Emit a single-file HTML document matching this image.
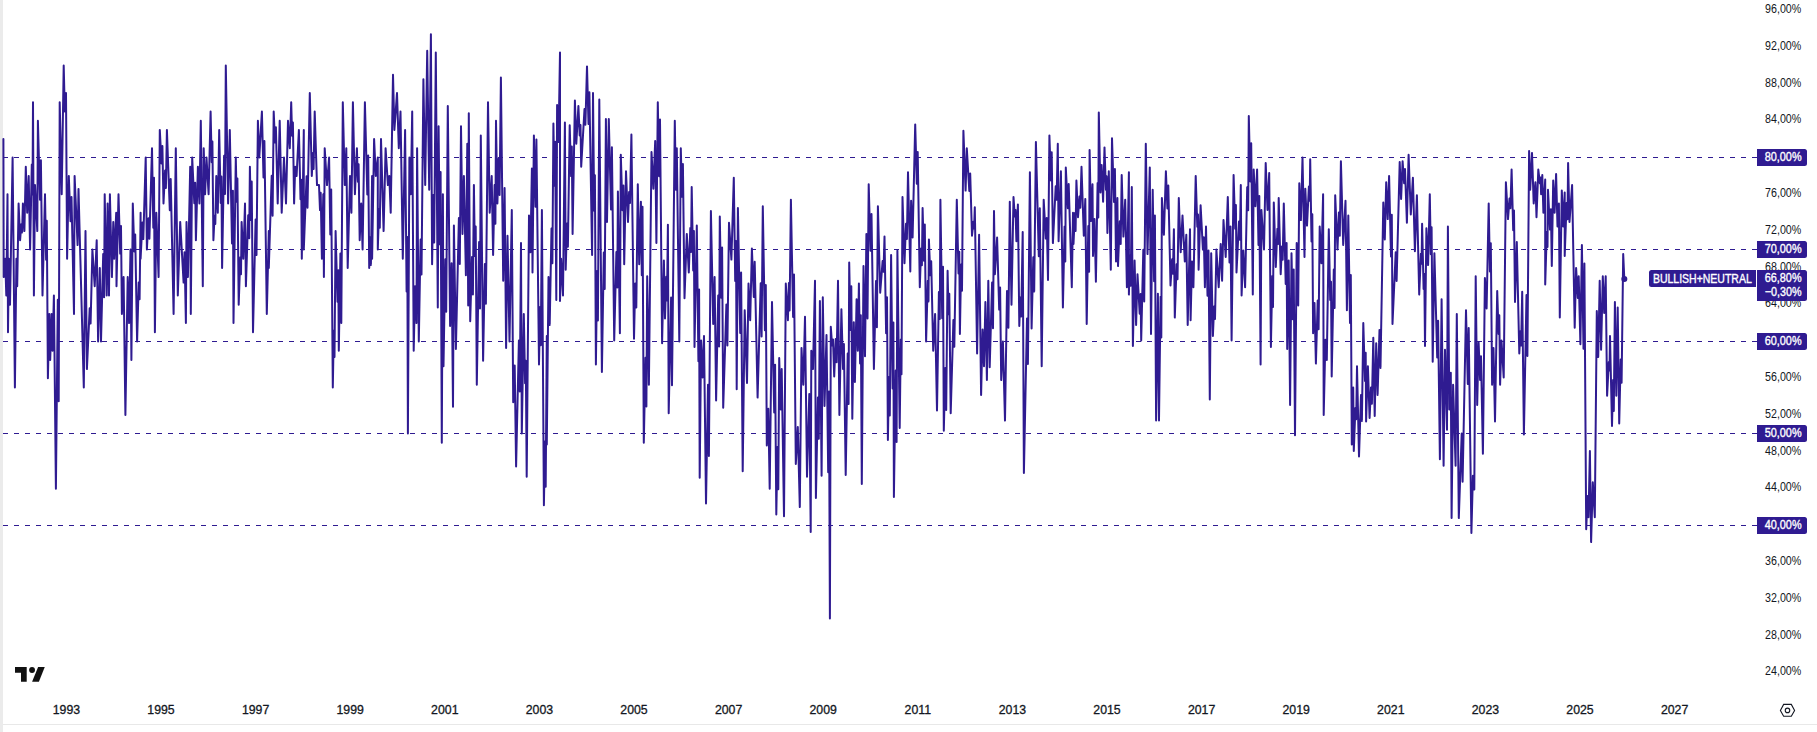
<!DOCTYPE html><html><head><meta charset="utf-8"><style>html,body{margin:0;padding:0;background:#fff;}svg{display:block;}text{font-family:"Liberation Sans",Arial,sans-serif;}</style></head><body>
<svg width="1817" height="732" viewBox="0 0 1817 732">
<rect x="0" y="0" width="1817" height="732" fill="#ffffff"/>
<rect x="0" y="0" width="3" height="732" fill="#ebebeb"/>
<rect x="3" y="724" width="1814" height="1" fill="#e8e8e8"/>
<line x1="3" y1="157.5" x2="1757" y2="157.5" stroke="#2f1b91" stroke-width="1" stroke-dasharray="5 6"/>
<line x1="3" y1="249.5" x2="1757" y2="249.5" stroke="#2f1b91" stroke-width="1" stroke-dasharray="5 6"/>
<line x1="3" y1="341.5" x2="1757" y2="341.5" stroke="#2f1b91" stroke-width="1" stroke-dasharray="5 6"/>
<line x1="3" y1="433.5" x2="1757" y2="433.5" stroke="#2f1b91" stroke-width="1" stroke-dasharray="5 6"/>
<line x1="3" y1="525.5" x2="1757" y2="525.5" stroke="#2f1b91" stroke-width="1" stroke-dasharray="5 6"/>
<path d="M3.4 139.1 L3.7 277.1 L5.2 258.7 L6.3 295.5 L7.5 194.3 L8.0 332.3 L8.9 258.7 L10.0 304.7 L12.6 157.5 L14.9 387.5 L16.4 258.7 L17.2 286.3 L18.6 203.5 L20.1 240.3 L21.3 224.3 L22.1 232.4 L22.9 203.5 L24.4 231.1 L25.8 166.7 L27.2 212.7 L28.7 175.9 L30.1 249.5 L31.8 164.5 L32.5 194.5 L33.0 102.3 L33.9 295.5 L35.0 185.1 L37.3 231.1 L37.9 120.7 L40.0 199.8 L40.9 160.3 L42.5 295.5 L45.0 194.3 L46.1 259.7 L46.8 220.7 L47.9 378.3 L49.3 313.9 L50.2 359.9 L51.6 313.9 L52.5 350.7 L53.9 295.5 L55.9 488.7 L57.8 299.8 L58.7 401.3 L59.7 102.3 L61.7 194.3 L63.7 65.5 L64.8 111.5 L66.0 93.1 L67.1 258.7 L68.8 175.9 L70.5 221.2 L71.5 197.1 L74.0 313.9 L74.6 175.9 L77.6 245.1 L78.5 188.9 L83.8 387.5 L85.5 231.1 L86.9 369.1 L89.7 308.3 L90.6 323.6 L92.4 249.5 L94.7 286.3 L96.7 240.3 L98.1 341.5 L99.8 267.9 L101.0 341.5 L103.2 254.0 L104.1 297.2 L104.7 194.3 L106.7 295.5 L107.6 203.5 L109.0 295.5 L109.9 194.3 L111.9 277.1 L113.3 221.9 L114.2 258.7 L116.2 212.7 L116.5 286.3 L118.5 194.3 L120.2 253.6 L121.0 226.0 L121.9 313.9 L123.6 277.1 L125.4 415.1 L127.7 277.1 L129.1 323.1 L130.5 249.5 L131.4 359.9 L132.8 203.5 L134.3 251.4 L135.2 234.5 L137.1 341.5 L138.7 282.4 L139.6 299.3 L140.6 212.7 L140.6 258.7 L142.4 222.6 L143.3 239.1 L145.7 157.5 L146.9 249.5 L148.5 218.2 L149.4 238.8 L152.0 148.3 L153.3 227.8 L154.0 177.8 L154.9 332.3 L156.3 212.7 L158.6 277.1 L159.8 129.9 L161.5 163.4 L162.4 146.1 L163.5 203.5 L165.1 170.4 L165.9 188.0 L166.9 129.9 L169.8 210.3 L170.7 179.1 L173.6 313.9 L175.8 148.3 L177.8 295.5 L180.2 221.9 L183.6 282.6 L184.5 252.3 L185.9 323.1 L186.5 221.9 L187.9 277.1 L190.2 166.7 L190.8 313.9 L192.2 157.5 L194.3 203.2 L195.2 182.7 L195.9 240.3 L197.9 166.7 L199.4 203.5 L200.8 120.7 L202.8 286.3 L203.7 148.3 L205.1 194.3 L206.5 157.5 L208.6 194.3 L210.6 111.5 L211.7 162.3 L212.4 141.5 L213.4 240.3 L214.6 215.4 L215.3 223.9 L216.3 175.9 L217.8 212.7 L219.2 129.9 L220.7 203.0 L221.4 176.5 L222.1 267.9 L224.1 155.8 L225.0 194.1 L225.8 65.5 L228.1 203.5 L229.8 129.9 L232.0 243.4 L232.9 190.7 L233.5 323.1 L235.8 157.5 L236.7 201.7 L237.4 178.5 L238.7 304.7 L240.3 257.2 L241.0 274.2 L241.6 221.9 L243.3 258.7 L245.0 203.5 L245.9 286.3 L248.2 215.2 L249.2 238.2 L249.9 166.7 L250.9 220.0 L251.7 181.4 L253.0 332.3 L255.6 219.4 L256.5 255.1 L257.9 120.7 L259.3 157.5 L261.9 111.5 L263.5 177.5 L264.4 141.1 L266.8 313.9 L268.8 231.1 L268.8 267.9 L271.7 175.8 L272.6 215.8 L273.7 111.5 L275.0 142.4 L275.9 127.2 L277.7 203.5 L279.7 120.7 L281.7 212.7 L284.0 157.5 L286.0 203.5 L288.0 120.7 L289.8 148.3 L291.2 102.3 L292.1 135.7 L292.9 122.5 L294.1 203.5 L295.2 166.7 L296.6 175.9 L298.9 129.9 L300.5 199.3 L301.2 179.8 L301.8 258.7 L303.8 129.9 L303.8 249.5 L306.6 176.3 L307.5 207.7 L309.8 93.1 L311.8 175.9 L312.9 152.9 L313.6 169.1 L314.7 111.5 L317.0 185.1 L319.0 185.1 L320.0 210.1 L320.7 192.7 L321.9 258.7 L323.3 194.3 L323.9 277.1 L324.7 148.3 L327.0 185.1 L329.1 157.5 L330.3 234.5 L331.2 189.5 L332.8 387.5 L333.8 330.6 L334.5 357.0 L335.6 231.1 L337.5 301.8 L338.3 270.2 L338.8 350.7 L340.4 253.5 L341.3 322.9 L342.8 102.3 L344.8 185.1 L346.3 148.3 L347.7 267.9 L350.0 175.9 L351.4 212.7 L352.9 102.3 L354.9 194.3 L356.9 148.3 L357.9 181.7 L358.6 164.2 L359.7 240.3 L361.2 203.5 L362.6 249.5 L364.9 102.3 L367.3 194.4 L368.2 155.4 L369.2 267.9 L370.2 237.5 L370.9 264.9 L372.1 175.9 L372.1 258.7 L374.1 139.1 L375.8 175.9 L377.8 157.5 L377.8 249.5 L379.0 209.3 L379.8 227.7 L381.0 139.1 L383.6 231.1 L385.6 148.3 L387.9 185.1 L389.3 175.9 L390.7 212.7 L393.0 74.7 L394.4 129.9 L397.0 93.1 L398.8 148.3 L400.5 111.5 L402.8 258.7 L405.1 129.9 L406.6 291.4 L407.3 236.9 L407.9 433.5 L409.4 157.5 L410.8 194.3 L412.2 111.5 L413.7 350.7 L415.1 286.3 L416.5 323.1 L417.1 148.3 L418.8 341.5 L420.6 239.5 L421.5 274.5 L423.4 79.3 L425.2 185.1 L427.2 50.8 L429.2 189.7 L430.9 34.2 L432.1 264.2 L433.3 195.0 L434.2 242.6 L435.8 52.6 L437.8 307.5 L438.6 126.2 L439.8 244.2 L440.6 172.0 L441.8 442.7 L442.9 194.3 L443.5 366.3 L445.3 259.2 L446.2 311.7 L447.8 106.0 L450.1 325.9 L451.6 263.3 L453.0 406.8 L453.9 225.6 L455.9 348.9 L458.9 218.0 L459.8 264.1 L461.0 126.2 L462.5 233.9 L463.9 175.9 L465.9 275.3 L467.3 143.7 L468.2 305.6 L468.8 113.3 L470.2 321.3 L472.0 256.9 L472.9 294.5 L473.9 185.1 L474.9 255.9 L475.7 226.4 L476.8 384.7 L479.1 242.0 L480.0 308.6 L480.8 135.4 L483.1 360.8 L484.9 263.9 L485.9 303.8 L488.0 102.3 L489.7 212.7 L491.7 175.9 L493.1 255.0 L494.6 184.9 L495.4 223.8 L496.0 120.7 L497.4 203.5 L498.7 158.2 L499.6 194.9 L500.9 77.5 L503.2 280.8 L504.6 187.9 L506.1 347.9 L507.5 235.7 L509.5 341.5 L511.8 209.9 L513.2 402.2 L514.7 365.4 L516.1 466.6 L518.9 340.4 L519.8 391.5 L521.0 243.1 L521.8 433.5 L523.8 313.9 L525.1 383.3 L525.8 360.8 L526.7 476.7 L529.0 215.5 L530.4 252.3 L531.9 168.5 L532.5 272.5 L533.9 135.4 L535.5 206.8 L536.4 139.6 L539.0 364.5 L540.1 307.1 L540.8 345.2 L541.9 209.9 L543.9 505.3 L545.0 441.4 L545.7 486.8 L546.8 336.0 L546.8 444.5 L548.5 277.1 L549.7 324.9 L551.5 228.4 L552.4 263.3 L553.4 123.5 L554.4 185.8 L555.1 141.7 L556.3 300.1 L557.1 105.1 L558.5 141.9 L560.0 52.6 L560.0 301.0 L561.1 258.7 L563.0 295.5 L564.9 122.5 L565.7 269.7 L567.0 223.4 L567.9 246.7 L569.7 125.3 L571.1 176.1 L571.8 146.4 L572.6 233.9 L574.9 100.5 L576.3 143.7 L578.4 106.0 L579.7 135.4 L580.5 125.0 L581.2 166.7 L584.5 109.0 L585.4 124.7 L587.0 66.4 L588.5 123.9 L589.4 92.2 L592.1 255.0 L593.0 93.1 L594.2 210.8 L594.9 175.3 L595.9 364.5 L597.1 271.0 L597.9 320.4 L599.3 99.5 L601.9 371.9 L603.8 252.5 L604.7 288.9 L605.9 118.9 L607.0 221.9 L608.8 118.9 L611.0 209.5 L611.9 147.3 L614.2 340.6 L616.4 252.0 L617.3 287.5 L617.9 191.5 L619.9 333.2 L620.8 154.7 L622.5 210.3 L623.4 185.6 L624.2 264.2 L626.0 171.3 L628.0 221.9 L629.1 192.0 L630.0 203.0 L631.4 134.5 L634.0 338.7 L635.2 283.5 L636.3 307.5 L637.8 184.2 L639.2 264.2 L640.9 201.7 L641.8 275.3 L642.5 206.8 L643.8 442.7 L645.5 357.7 L646.4 406.6 L647.2 276.2 L648.9 384.7 L651.5 152.0 L653.4 188.8 L655.2 140.9 L656.4 243.1 L657.8 102.3 L659.1 176.2 L660.0 119.6 L662.1 343.3 L663.9 260.5 L665.0 318.5 L666.3 276.8 L667.0 300.4 L667.9 224.7 L668.7 413.3 L671.1 297.5 L672.0 385.2 L674.8 120.7 L675.9 189.7 L676.8 148.3 L679.3 341.5 L680.8 148.3 L682.0 196.7 L682.9 163.9 L684.5 298.3 L686.8 233.9 L688.8 272.5 L690.3 227.9 L691.0 252.1 L691.7 186.9 L693.2 270.4 L693.9 230.9 L694.5 347.0 L696.8 225.6 L698.4 361.2 L699.1 289.4 L699.7 477.7 L701.1 340.6 L702.6 377.4 L704.0 336.0 L706.0 503.4 L708.0 384.8 L708.9 456.0 L710.9 210.9 L713.2 324.0 L714.6 277.1 L716.1 400.4 L718.2 295.4 L719.1 346.4 L719.8 216.4 L721.2 297.7 L722.1 247.5 L723.2 407.7 L726.4 304.4 L727.4 345.6 L729.0 222.8 L731.4 259.6 L733.8 177.7 L735.2 280.9 L736.0 240.9 L736.7 389.3 L737.9 208.1 L740.2 333.0 L741.1 272.6 L742.7 471.2 L744.7 310.2 L747.0 382.9 L748.5 283.5 L750.2 320.3 L751.9 248.6 L753.8 296.9 L754.7 261.8 L757.6 397.6 L760.7 283.2 L761.6 336.4 L762.8 206.3 L764.9 330.3 L765.8 284.9 L766.8 445.5 L768.3 408.7 L769.7 488.7 L772.0 301.9 L774.2 412.6 L775.1 364.8 L776.3 514.5 L777.5 446.9 L778.3 489.2 L779.2 358.1 L780.8 409.5 L781.7 369.1 L784.0 516.3 L785.8 283.5 L787.9 320.3 L788.9 283.1 L789.6 310.6 L790.9 199.8 L793.1 317.1 L794.0 274.5 L795.8 463.9 L797.8 427.1 L799.8 507.1 L801.5 347.9 L803.3 384.7 L805.0 316.7 L807.0 476.7 L809.3 393.9 L810.7 531.9 L811.3 350.7 L813.0 369.1 L815.0 280.8 L815.9 497.9 L817.9 397.6 L818.8 438.8 L819.9 301.0 L821.6 475.8 L822.8 297.3 L824.5 405.9 L826.5 335.1 L828.2 472.3 L829.0 391.4 L829.9 618.4 L830.8 326.8 L832.1 345.5 L833.0 339.4 L834.2 376.5 L835.7 339.1 L836.6 362.3 L838.0 280.8 L839.4 415.1 L841.4 309.3 L843.0 369.0 L843.9 344.1 L845.7 474.9 L847.7 353.4 L848.6 404.1 L849.2 262.4 L850.5 330.0 L851.3 286.2 L852.3 418.8 L853.8 322.2 L854.9 382.0 L856.6 299.2 L857.8 350.7 L858.9 283.5 L860.1 363.4 L860.8 315.3 L861.8 484.1 L863.5 266.1 L865.0 356.2 L866.4 233.9 L867.5 318.5 L868.7 184.2 L870.5 250.7 L871.5 214.1 L873.9 369.1 L876.0 280.9 L876.9 327.2 L877.9 206.3 L880.2 292.7 L882.6 261.1 L883.5 271.7 L884.5 236.6 L886.1 333.2 L887.0 297.2 L887.9 439.9 L889.0 376.9 L889.8 415.6 L891.1 255.0 L892.6 388.4 L893.4 322.4 L893.9 497.0 L895.7 370.4 L896.6 442.1 L897.4 250.4 L899.7 428.0 L900.8 339.5 L901.5 374.3 L902.5 197.1 L904.5 263.3 L906.0 223.7 L906.9 239.1 L908.0 172.2 L910.3 271.6 L911.1 200.7 L912.6 237.5 L915.2 124.4 L916.8 183.7 L917.7 152.0 L919.8 287.2 L921.1 248.6 L921.9 265.2 L922.6 208.1 L924.0 260.7 L924.8 224.6 L926.1 341.5 L927.8 280.8 L928.5 301.4 L928.9 239.4 L930.3 275.3 L931.2 261.3 L933.2 350.7 L935.1 313.9 L937.0 410.5 L938.9 292.1 L939.8 319.0 L940.4 199.8 L942.2 318.2 L943.0 266.8 L943.8 430.7 L945.3 367.9 L946.2 409.9 L947.6 270.7 L948.5 314.3 L949.3 293.7 L950.7 413.3 L953.4 320.1 L954.3 346.7 L956.8 199.8 L958.5 273.6 L959.3 251.7 L959.9 334.1 L961.1 264.6 L962.0 290.7 L963.4 130.8 L965.6 190.6 L966.8 148.3 L969.3 191.0 L970.2 173.5 L972.0 235.7 L973.4 221.8 L974.1 228.5 L974.8 207.2 L977.1 353.5 L979.1 234.8 L981.1 394.9 L982.6 329.5 L984.0 366.3 L985.4 301.9 L986.9 380.1 L988.3 280.8 L989.7 367.3 L992.1 282.5 L993.0 328.2 L994.0 210.9 L994.9 274.3 L997.1 237.5 L999.2 309.6 L1000.1 287.4 L1001.2 380.1 L1002.9 341.5 L1005.0 420.6 L1007.0 290.9 L1008.4 327.7 L1009.8 201.7 L1011.5 304.7 L1013.5 197.1 L1014.8 216.6 L1015.5 209.9 L1016.4 241.2 L1017.9 204.4 L1019.3 325.9 L1020.3 297.4 L1021.2 316.6 L1022.7 232.0 L1023.9 473.1 L1027.0 318.4 L1027.9 364.1 L1029.9 172.2 L1031.6 328.6 L1033.3 257.3 L1034.2 291.4 L1035.9 141.9 L1038.8 256.2 L1039.8 208.2 L1041.7 366.3 L1043.7 199.8 L1045.8 238.6 L1046.7 218.1 L1048.0 279.9 L1049.4 135.4 L1050.9 180.4 L1051.7 152.2 L1052.9 243.1 L1055.7 186.2 L1056.6 199.7 L1057.8 143.7 L1058.6 241.2 L1060.9 171.3 L1062.9 307.5 L1064.6 226.4 L1065.3 261.4 L1065.8 167.6 L1067.8 208.2 L1068.7 184.1 L1071.8 287.2 L1073.0 212.7 L1073.5 244.0 L1074.9 213.0 L1075.6 231.0 L1076.4 180.5 L1078.0 217.3 L1079.5 196.4 L1080.3 207.7 L1081.5 166.7 L1083.8 235.7 L1085.3 198.9 L1086.7 324.0 L1088.3 226.0 L1089.1 271.8 L1089.6 150.1 L1091.0 221.0 L1092.5 184.2 L1093.0 255.9 L1094.5 219.1 L1095.9 281.7 L1097.6 183.0 L1098.3 217.4 L1098.8 112.4 L1100.5 192.5 L1101.6 164.9 L1103.1 201.7 L1104.5 147.4 L1105.9 189.8 L1106.6 176.3 L1107.4 232.9 L1108.8 171.3 L1110.8 269.7 L1112.0 138.2 L1114.0 201.9 L1114.9 168.9 L1116.0 261.5 L1117.4 198.0 L1118.0 266.1 L1119.8 221.2 L1120.7 243.9 L1121.7 175.0 L1123.4 236.6 L1125.2 199.8 L1126.9 287.2 L1128.9 172.2 L1128.9 294.6 L1129.9 255.4 L1130.7 285.8 L1131.8 186.9 L1132.9 346.1 L1134.6 260.5 L1136.1 324.9 L1137.5 274.3 L1139.7 313.7 L1140.6 294.1 L1141.2 340.6 L1143.3 249.8 L1144.2 301.4 L1145.8 143.7 L1147.5 254.1 L1149.8 167.6 L1151.0 334.1 L1152.7 189.7 L1154.1 281.2 L1154.9 215.6 L1156.1 420.6 L1157.9 293.7 L1159.0 420.6 L1160.6 296.7 L1161.3 337.4 L1161.9 198.0 L1163.9 234.8 L1165.9 171.3 L1167.4 208.4 L1168.3 185.6 L1170.5 285.4 L1172.1 259.3 L1172.9 273.8 L1173.9 229.3 L1174.8 317.6 L1176.6 264.2 L1177.5 279.2 L1178.8 198.0 L1180.7 252.3 L1182.5 215.5 L1184.8 261.5 L1186.3 234.8 L1187.7 324.9 L1190.0 229.3 L1190.6 320.3 L1192.0 261.5 L1193.4 287.2 L1195.7 175.9 L1197.3 226.8 L1198.0 214.5 L1198.6 269.7 L1200.6 205.3 L1202.9 249.6 L1203.8 237.2 L1204.9 287.2 L1206.0 226.5 L1207.5 295.8 L1208.5 250.5 L1209.8 399.5 L1211.2 253.2 L1212.9 336.0 L1214.1 306.4 L1215.0 319.1 L1216.4 249.5 L1218.7 287.2 L1220.7 244.0 L1222.1 280.8 L1223.5 220.1 L1225.7 256.9 L1227.8 197.1 L1229.5 262.4 L1230.5 226.4 L1231.6 340.6 L1233.6 175.0 L1235.2 228.8 L1235.9 205.0 L1236.5 272.5 L1239.0 221.5 L1239.9 239.7 L1240.8 185.1 L1241.6 295.5 L1243.3 250.4 L1245.1 287.2 L1247.2 187.2 L1248.2 210.3 L1248.8 116.1 L1250.3 181.5 L1251.2 143.2 L1252.8 294.6 L1253.7 169.5 L1255.4 206.3 L1257.1 169.5 L1258.5 244.9 L1259.3 196.0 L1260.6 364.5 L1261.4 209.9 L1264.0 249.5 L1265.7 163.0 L1267.5 209.9 L1269.2 173.1 L1270.9 347.0 L1272.3 276.0 L1273.0 306.9 L1273.8 202.6 L1275.8 267.0 L1277.4 228.8 L1278.1 244.1 L1278.7 198.0 L1280.7 274.3 L1281.9 246.5 L1282.7 259.8 L1283.8 203.5 L1285.7 284.0 L1286.6 243.0 L1287.2 348.9 L1288.7 260.5 L1290.1 405.0 L1291.5 253.2 L1292.8 319.2 L1293.7 269.4 L1295.0 435.3 L1296.7 243.1 L1298.2 305.6 L1299.3 183.3 L1300.9 220.1 L1302.5 157.5 L1304.5 256.9 L1305.3 188.8 L1307.0 225.6 L1308.9 186.5 L1309.7 200.7 L1310.2 159.3 L1311.5 241.4 L1312.3 214.2 L1313.1 333.2 L1314.5 302.9 L1315.9 363.6 L1317.7 300.4 L1318.6 329.3 L1319.7 226.5 L1321.4 263.3 L1323.1 194.3 L1323.7 415.1 L1325.4 339.7 L1326.8 359.9 L1328.8 229.3 L1330.2 300.1 L1331.0 281.8 L1331.7 376.5 L1333.8 269.4 L1334.6 308.0 L1335.2 195.2 L1337.5 249.5 L1338.9 212.4 L1339.8 235.7 L1340.9 161.2 L1343.2 244.9 L1345.5 200.7 L1346.9 310.2 L1348.3 215.5 L1350.0 322.9 L1350.8 275.1 L1351.8 444.5 L1353.2 387.5 L1353.8 451.0 L1355.4 408.0 L1356.2 419.2 L1357.0 366.3 L1359.0 456.5 L1361.0 394.9 L1361.9 420.9 L1363.3 323.1 L1365.0 380.9 L1365.7 352.7 L1366.1 421.5 L1367.9 366.3 L1369.6 417.9 L1371.0 387.4 L1371.9 403.8 L1373.3 337.8 L1374.7 416.0 L1376.2 343.3 L1377.6 394.9 L1379.5 329.9 L1380.5 367.9 L1383.3 202.6 L1384.8 239.4 L1386.2 182.3 L1387.7 219.1 L1389.1 175.9 L1391.0 256.6 L1391.8 214.8 L1392.5 324.0 L1395.7 252.3 L1396.6 281.0 L1399.7 162.1 L1401.1 198.9 L1402.6 161.2 L1404.1 183.2 L1405.0 169.0 L1406.9 222.8 L1408.6 154.7 L1410.8 214.5 L1412.9 177.7 L1414.9 251.3 L1416.9 195.2 L1419.2 294.6 L1420.9 253.7 L1421.6 263.8 L1422.1 223.7 L1423.6 289.1 L1424.3 273.9 L1425.0 346.1 L1426.4 228.3 L1428.1 265.1 L1429.8 194.3 L1430.8 254.3 L1431.6 227.3 L1432.7 361.7 L1434.4 253.2 L1437.2 357.5 L1438.1 320.8 L1439.9 459.3 L1441.6 299.2 L1443.6 465.7 L1445.0 349.8 L1447.0 429.8 L1447.9 226.5 L1449.3 409.6 L1450.8 372.8 L1451.6 518.1 L1453.1 384.7 L1455.6 465.7 L1456.8 313.9 L1458.8 518.1 L1461.7 433.6 L1462.6 481.7 L1466.0 310.2 L1467.8 384.0 L1468.7 328.0 L1471.4 532.9 L1472.9 475.8 L1474.3 489.6 L1475.7 276.2 L1477.2 405.0 L1478.6 342.4 L1480.1 379.9 L1481.0 356.3 L1482.9 453.7 L1484.9 278.0 L1486.6 308.4 L1488.7 203.5 L1489.9 271.5 L1490.8 243.3 L1492.1 384.7 L1493.5 347.9 L1495.0 421.5 L1497.2 290.9 L1498.6 334.0 L1499.3 315.3 L1500.1 384.7 L1501.5 340.6 L1503.7 377.4 L1505.9 182.3 L1508.0 219.1 L1509.5 198.6 L1510.4 208.3 L1511.6 169.5 L1513.2 230.2 L1514.0 210.5 L1515.0 301.9 L1516.8 242.1 L1519.3 353.5 L1520.4 331.2 L1521.1 345.6 L1522.2 291.8 L1523.9 434.4 L1526.5 295.1 L1527.4 356.1 L1529.1 151.1 L1530.2 189.7 L1532.0 152.9 L1533.7 203.5 L1535.4 182.3 L1536.5 217.3 L1538.3 169.5 L1539.9 183.3 L1540.6 177.5 L1541.1 194.3 L1542.3 175.0 L1543.4 212.7 L1545.2 179.6 L1545.2 284.5 L1546.8 231.7 L1547.5 247.0 L1548.0 189.7 L1550.0 229.6 L1550.9 209.3 L1551.8 266.1 L1553.2 180.5 L1554.6 212.7 L1556.1 174.1 L1557.5 226.5 L1558.9 203.5 L1559.8 317.6 L1561.8 190.6 L1563.2 226.5 L1564.7 192.5 L1564.7 255.9 L1566.6 202.9 L1567.5 219.3 L1568.1 163.0 L1569.5 221.9 L1572.1 185.1 L1574.7 327.7 L1576.1 267.9 L1577.8 298.0 L1578.7 276.2 L1580.4 344.3 L1581.9 244.9 L1583.5 348.8 L1584.4 263.6 L1586.2 529.2 L1587.6 496.1 L1588.5 517.2 L1589.9 451.0 L1591.1 542.1 L1592.8 482.3 L1594.8 517.2 L1596.8 311.1 L1598.2 357.1 L1599.7 280.8 L1601.1 349.8 L1602.8 276.2 L1604.2 313.0 L1605.7 276.2 L1607.1 395.8 L1608.8 361.9 L1609.5 370.5 L1610.0 336.0 L1612.0 426.1 L1613.1 380.0 L1613.8 411.1 L1614.9 301.9 L1616.3 395.8 L1617.7 307.5 L1619.2 423.4 L1620.7 359.4 L1621.6 382.7 L1623.2 254.1 L1624.3 278.9" fill="none" stroke="#2f1b91" stroke-width="2" stroke-linejoin="round" stroke-linecap="round"/>
<circle cx="1624.33" cy="278.94" r="3" fill="#2f1b91"/>
<text x="1765.1" y="12.9" font-size="12.3" fill="#131722" textLength="36.2" lengthAdjust="spacingAndGlyphs">96,00%</text>
<text x="1765.1" y="49.7" font-size="12.3" fill="#131722" textLength="36.2" lengthAdjust="spacingAndGlyphs">92,00%</text>
<text x="1765.1" y="86.5" font-size="12.3" fill="#131722" textLength="36.2" lengthAdjust="spacingAndGlyphs">88,00%</text>
<text x="1765.1" y="123.3" font-size="12.3" fill="#131722" textLength="36.2" lengthAdjust="spacingAndGlyphs">84,00%</text>
<text x="1765.1" y="196.9" font-size="12.3" fill="#131722" textLength="36.2" lengthAdjust="spacingAndGlyphs">76,00%</text>
<text x="1765.1" y="233.7" font-size="12.3" fill="#131722" textLength="36.2" lengthAdjust="spacingAndGlyphs">72,00%</text>
<text x="1765.1" y="270.5" font-size="12.3" fill="#131722" textLength="36.2" lengthAdjust="spacingAndGlyphs">68,00%</text>
<text x="1765.1" y="307.3" font-size="12.3" fill="#131722" textLength="36.2" lengthAdjust="spacingAndGlyphs">64,00%</text>
<text x="1765.1" y="380.9" font-size="12.3" fill="#131722" textLength="36.2" lengthAdjust="spacingAndGlyphs">56,00%</text>
<text x="1765.1" y="417.7" font-size="12.3" fill="#131722" textLength="36.2" lengthAdjust="spacingAndGlyphs">52,00%</text>
<text x="1765.1" y="454.5" font-size="12.3" fill="#131722" textLength="36.2" lengthAdjust="spacingAndGlyphs">48,00%</text>
<text x="1765.1" y="491.3" font-size="12.3" fill="#131722" textLength="36.2" lengthAdjust="spacingAndGlyphs">44,00%</text>
<text x="1765.1" y="564.9" font-size="12.3" fill="#131722" textLength="36.2" lengthAdjust="spacingAndGlyphs">36,00%</text>
<text x="1765.1" y="601.7" font-size="12.3" fill="#131722" textLength="36.2" lengthAdjust="spacingAndGlyphs">32,00%</text>
<text x="1765.1" y="638.5" font-size="12.3" fill="#131722" textLength="36.2" lengthAdjust="spacingAndGlyphs">28,00%</text>
<text x="1765.1" y="675.3" font-size="12.3" fill="#131722" textLength="36.2" lengthAdjust="spacingAndGlyphs">24,00%</text>
<path d="M1757 149.0 H1804.5 a2.5 2.5 0 0 1 2.5 2.5 V163.5 a2.5 2.5 0 0 1 -2.5 2.5 H1757 Z" fill="#2f1b91"/>
<text x="1764.6999999999998" y="160.9" font-size="12.3" fill="#ffffff" stroke="#ffffff" stroke-width="0.35" textLength="36.900000000000006" lengthAdjust="spacingAndGlyphs">80,00%</text>
<path d="M1757 241.0 H1804.5 a2.5 2.5 0 0 1 2.5 2.5 V255.5 a2.5 2.5 0 0 1 -2.5 2.5 H1757 Z" fill="#2f1b91"/>
<text x="1764.6999999999998" y="252.9" font-size="12.3" fill="#ffffff" stroke="#ffffff" stroke-width="0.35" textLength="36.900000000000006" lengthAdjust="spacingAndGlyphs">70,00%</text>
<path d="M1757 333.0 H1804.5 a2.5 2.5 0 0 1 2.5 2.5 V347.5 a2.5 2.5 0 0 1 -2.5 2.5 H1757 Z" fill="#2f1b91"/>
<text x="1764.6999999999998" y="344.9" font-size="12.3" fill="#ffffff" stroke="#ffffff" stroke-width="0.35" textLength="36.900000000000006" lengthAdjust="spacingAndGlyphs">60,00%</text>
<path d="M1757 425.0 H1804.5 a2.5 2.5 0 0 1 2.5 2.5 V439.5 a2.5 2.5 0 0 1 -2.5 2.5 H1757 Z" fill="#2f1b91"/>
<text x="1764.6999999999998" y="436.9" font-size="12.3" fill="#ffffff" stroke="#ffffff" stroke-width="0.35" textLength="36.900000000000006" lengthAdjust="spacingAndGlyphs">50,00%</text>
<path d="M1757 517.0 H1804.5 a2.5 2.5 0 0 1 2.5 2.5 V531.5 a2.5 2.5 0 0 1 -2.5 2.5 H1757 Z" fill="#2f1b91"/>
<text x="1764.6999999999998" y="528.9" font-size="12.3" fill="#ffffff" stroke="#ffffff" stroke-width="0.35" textLength="36.900000000000006" lengthAdjust="spacingAndGlyphs">40,00%</text>
<path d="M1757 270 H1804.5 a2.5 2.5 0 0 1 2.5 2.5 V298.5 a2.5 2.5 0 0 1 -2.5 2.5 H1757 Z" fill="#2f1b91"/>
<text x="1764.7" y="282.3" font-size="12.3" fill="#ffffff" stroke="#ffffff" stroke-width="0.35" textLength="36.9" lengthAdjust="spacingAndGlyphs">66,80%</text>
<text x="1764.7" y="296.4" font-size="12.3" fill="#ffffff" stroke="#ffffff" stroke-width="0.35" textLength="36.9" lengthAdjust="spacingAndGlyphs">−0,30%</text>
<path d="M1651.5 270 H1756 V287 H1651.5 a2.5 2.5 0 0 1 -2.5 -2.5 V272.5 a2.5 2.5 0 0 1 2.5 -2.5 Z" fill="#2f1b91"/>
<text x="1652.9" y="282.9" font-size="12.3" fill="#ffffff" stroke="#ffffff" stroke-width="0.35" textLength="98.9" lengthAdjust="spacingAndGlyphs">BULLISH+NEUTRAL</text>
<text x="66.4" y="713.9" font-size="12.3" fill="#131722" stroke="#131722" stroke-width="0.3" text-anchor="middle">1993</text>
<text x="161.0" y="713.9" font-size="12.3" fill="#131722" stroke="#131722" stroke-width="0.3" text-anchor="middle">1995</text>
<text x="255.6" y="713.9" font-size="12.3" fill="#131722" stroke="#131722" stroke-width="0.3" text-anchor="middle">1997</text>
<text x="350.2" y="713.9" font-size="12.3" fill="#131722" stroke="#131722" stroke-width="0.3" text-anchor="middle">1999</text>
<text x="444.8" y="713.9" font-size="12.3" fill="#131722" stroke="#131722" stroke-width="0.3" text-anchor="middle">2001</text>
<text x="539.4" y="713.9" font-size="12.3" fill="#131722" stroke="#131722" stroke-width="0.3" text-anchor="middle">2003</text>
<text x="634.0" y="713.9" font-size="12.3" fill="#131722" stroke="#131722" stroke-width="0.3" text-anchor="middle">2005</text>
<text x="728.6" y="713.9" font-size="12.3" fill="#131722" stroke="#131722" stroke-width="0.3" text-anchor="middle">2007</text>
<text x="823.2" y="713.9" font-size="12.3" fill="#131722" stroke="#131722" stroke-width="0.3" text-anchor="middle">2009</text>
<text x="917.8" y="713.9" font-size="12.3" fill="#131722" stroke="#131722" stroke-width="0.3" text-anchor="middle">2011</text>
<text x="1012.4" y="713.9" font-size="12.3" fill="#131722" stroke="#131722" stroke-width="0.3" text-anchor="middle">2013</text>
<text x="1107.0" y="713.9" font-size="12.3" fill="#131722" stroke="#131722" stroke-width="0.3" text-anchor="middle">2015</text>
<text x="1201.6" y="713.9" font-size="12.3" fill="#131722" stroke="#131722" stroke-width="0.3" text-anchor="middle">2017</text>
<text x="1296.2" y="713.9" font-size="12.3" fill="#131722" stroke="#131722" stroke-width="0.3" text-anchor="middle">2019</text>
<text x="1390.8" y="713.9" font-size="12.3" fill="#131722" stroke="#131722" stroke-width="0.3" text-anchor="middle">2021</text>
<text x="1485.4" y="713.9" font-size="12.3" fill="#131722" stroke="#131722" stroke-width="0.3" text-anchor="middle">2023</text>
<text x="1580.0" y="713.9" font-size="12.3" fill="#131722" stroke="#131722" stroke-width="0.3" text-anchor="middle">2025</text>
<text x="1674.6" y="713.9" font-size="12.3" fill="#131722" stroke="#131722" stroke-width="0.3" text-anchor="middle">2027</text>
<g fill="#111111"><path d="M15 667 H26.7 V681.7 H21 V672.7 H15 Z"/><circle cx="32.06" cy="670" r="2.93"/><path d="M38.1 667 H44.75 L38.9 681.7 H32.1 Z"/></g>
<g fill="none" stroke="#131722" stroke-width="1.1"><path d="M1783.65 704.4 H1791.3 L1794.6 710.4 L1791.3 716.3 H1783.65 L1780.4 710.4 Z"/><circle cx="1787.5" cy="710.4" r="2.25"/></g>
</svg></body></html>
